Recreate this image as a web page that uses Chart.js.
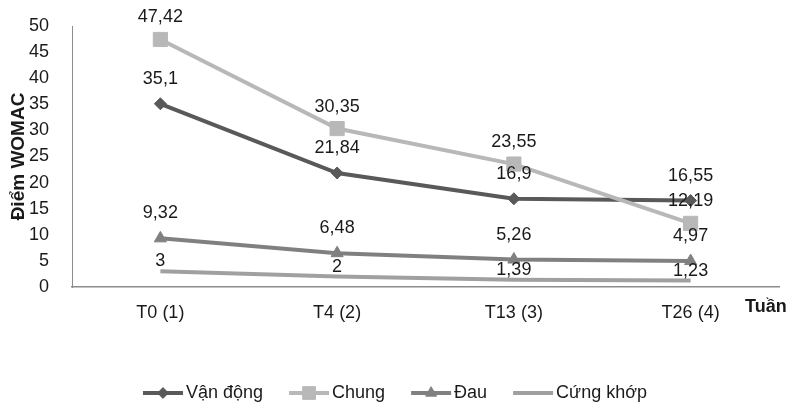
<!DOCTYPE html>
<html>
<head>
<meta charset="utf-8">
<script src="https://cdn.jsdelivr.net/npm/chart.js@4.4.1/dist/chart.umd.min.js"></script>
<style>
  html, body { margin: 0; padding: 0; background: #fff; }
  #wrap { width: 790px; height: 404px; position: relative; }
</style>
</head>
<body>
<div id="wrap"><canvas id="myChart" width="790" height="404"></canvas></div>
<script>
// Data
const weeks = ['T0 (1)', 'T4 (2)', 'T13 (3)', 'T26 (4)'];
const vanDong = [35.1, 21.84, 16.9, 16.55];
const chung = [47.42, 30.35, 23.55, 12.19];
const dau = [9.32, 6.48, 5.26, 4.97];
const cungKhop = [3, 2, 1.39, 1.23];
const yTicks = [0, 5, 10, 15, 20, 25, 30, 35, 40, 45, 50];

const FONT = "'Liberation Sans', Arial, sans-serif";

// so 3 -> "3", 47.42 -> "47,42"
function fmt(v) {
    return String(v).replace('.', ',');
}

// nhan so lieu tren diem
const labelPlugin = {
    id: 'pointLabels',
    afterDatasetsDraw(chart) {
        const ctx = chart.ctx;
        ctx.save();
        ctx.font = '18px ' + FONT;
        ctx.fillStyle = '#1a1a1a';
        ctx.textAlign = 'center';
        ctx.textBaseline = 'middle';
        chart.data.datasets.forEach((ds, i) => {
            const meta = chart.getDatasetMeta(i);
            meta.data.forEach((pt, j) => {
                ctx.fillText(fmt(ds.data[j]), pt.x, pt.y - ds.labelOffset);
            });
        });
        ctx.restore();
    }
};

// legend kieu Excel (duong + marker) va chu "Tuan"
const legendPlugin = {
    id: 'excelLegend',
    afterDraw(chart) {
        const ctx = chart.ctx;
        const sets = chart.data.datasets;
        ctx.save();
        ctx.font = '18px ' + FONT;
        const lineLen = 40, gapText = 3, gapItem = 26;
        var widths = sets.map(ds => lineLen + gapText + ctx.measureText(ds.label).width);
        var total = widths.reduce((a, b) => a + b, 0) + gapItem * (sets.length - 1);
        var x = 395 - total / 2;
        const y = 393;
        sets.forEach((ds, i) => {
            ctx.strokeStyle = ds.borderColor;
            ctx.lineWidth = 4;
            ctx.beginPath();
            ctx.moveTo(x, y);
            ctx.lineTo(x + lineLen, y);
            ctx.stroke();
            if (ds.pointRadius > 0) {
                ctx.fillStyle = ds.pointBackgroundColor;
                ctx.strokeStyle = ds.pointBackgroundColor;
                ctx.lineWidth = 1;
                Chart.helpers.drawPoint(ctx, {
                    pointStyle: ds.pointStyle,
                    radius: ds.pointRadius * 0.9,
                    rotation: 0,
                    borderWidth: 1
                }, x + lineLen / 2, y);
            }
            ctx.fillStyle = '#1a1a1a';
            ctx.textAlign = 'left';
            ctx.textBaseline = 'middle';
            ctx.fillText(ds.label, x + lineLen + gapText, y);
            x += widths[i] + gapItem;
        });

        // tieu de truc X
        ctx.font = 'bold 18px ' + FONT;
        ctx.fillStyle = '#1a1a1a';
        ctx.textAlign = 'left';
        ctx.fillText('Tuần', 745, 307);
        ctx.restore();
    }
};

function makeSet(label, data, color, style, radius, offset, order) {
    return {
        label: label,
        data: data,
        borderColor: color,
        backgroundColor: color,
        pointBackgroundColor: color,
        pointBorderColor: color,
        borderWidth: 4,
        pointStyle: style,
        pointRadius: radius,
        pointHoverRadius: radius,
        pointBorderWidth: 1,
        tension: 0,
        fill: false,
        labelOffset: offset,
        order: order
    };
}

const ctx = document.getElementById('myChart');
const myChart = new Chart(ctx, {
    type: 'line',
    data: {
        labels: weeks,
        datasets: [
            makeSet('Vận động', vanDong, '#595959', 'rectRot', 6, 25, 4),
            makeSet('Chung', chung, '#b8b8b8', 'rect', 10, 22, 3),
            makeSet('Đau', dau, '#808080', 'triangle', 7, 25, 2),
            makeSet('Cứng khớp', cungKhop, '#a0a0a0', 'circle', 0, 10, 1)
        ]
    },
    options: {
        responsive: false,
        animation: false,
        devicePixelRatio: 1,
        layout: { padding: { top: 26, right: 5, bottom: 0, left: 0 } },
        plugins: {
            legend: { display: false },
            tooltip: { enabled: false }
        },
        scales: {
            x: {
                offset: true,
                grid: { display: false },
                border: { display: true, color: '#8c8c8c', width: 1.5 },
                ticks: {
                    color: '#1a1a1a',
                    font: { family: FONT, size: 18 },
                    padding: 7,
                    maxRotation: 0
                },
                afterFit: s => { s.height = 117; }
            },
            y: {
                min: 0,
                max: 50,
                grid: { display: false },
                border: { display: true, color: '#8c8c8c', width: 1 },
                afterBuildTicks: s => { s.ticks = yTicks.map(v => ({ value: v })); },
                ticks: {
                    color: '#1a1a1a',
                    font: { family: FONT, size: 18 },
                    padding: 15
                },
                title: {
                    display: true,
                    text: 'Điểm WOMAC',
                    color: '#1a1a1a',
                    font: { family: FONT, size: 19, weight: 'bold' },
                    padding: { top: 7, bottom: 0 }
                },
                afterFit: s => { s.width = 72; }
            }
        }
    },
    plugins: [labelPlugin, legendPlugin]
});
</script>
</body>
</html>
